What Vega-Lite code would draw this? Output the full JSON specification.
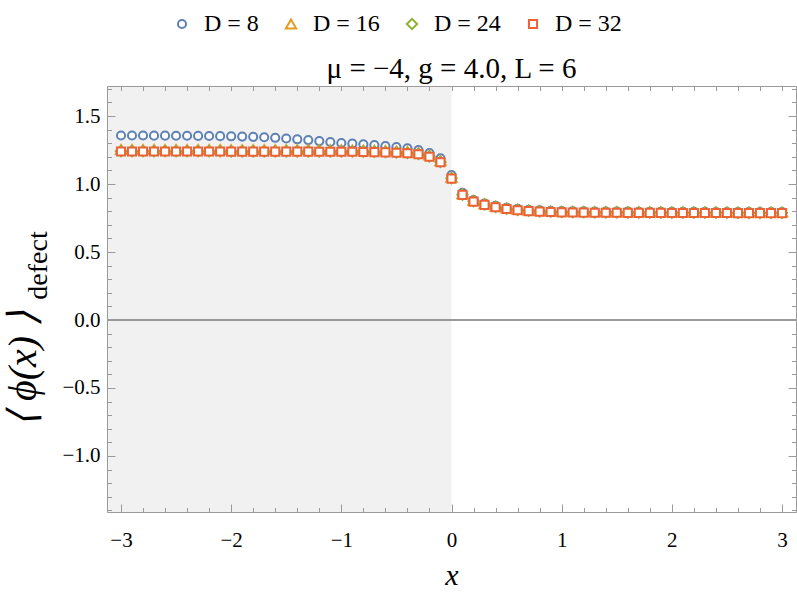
{
"$schema": "https://vega.github.io/schema/vega-lite/v6.json",
"width": 689, "height": 426,
"autosize": {"type": "none"},
"padding": {"left": 107, "top": 86, "right": 1, "bottom": 89},
"background": "white",
"title": {"text": "μ = −4, g = 4.0, L = 6", "font": "Liberation Serif, Times New Roman, serif", "fontSize": 29, "fontWeight": "normal", "anchor": "middle", "baseline": "alphabetic", "offset": 6, "dy": 101, "color": "black"},
"datasets": {
"shade": [{"x0": -3.127, "x1": 0}],
"pts": [
{"x":-3.0,"D":8,"y":1.357},{"x":-2.9,"D":8,"y":1.357},{"x":-2.8,"D":8,"y":1.357},{"x":-2.7,"D":8,"y":1.356},{"x":-2.6,"D":8,"y":1.356},{"x":-2.5,"D":8,"y":1.355},{"x":-2.4,"D":8,"y":1.355},{"x":-2.3,"D":8,"y":1.354},{"x":-2.2,"D":8,"y":1.353},{"x":-2.1,"D":8,"y":1.352},
{"x":-2.0,"D":8,"y":1.351},{"x":-1.9,"D":8,"y":1.349},{"x":-1.8,"D":8,"y":1.347},{"x":-1.7,"D":8,"y":1.344},{"x":-1.6,"D":8,"y":1.340},{"x":-1.5,"D":8,"y":1.335},{"x":-1.4,"D":8,"y":1.329},{"x":-1.3,"D":8,"y":1.323},{"x":-1.2,"D":8,"y":1.316},{"x":-1.1,"D":8,"y":1.309},
{"x":-1.0,"D":8,"y":1.302},{"x":-0.9,"D":8,"y":1.297},{"x":-0.8,"D":8,"y":1.292},{"x":-0.7,"D":8,"y":1.286},{"x":-0.6,"D":8,"y":1.279},{"x":-0.5,"D":8,"y":1.272},{"x":-0.4,"D":8,"y":1.263},{"x":-0.3,"D":8,"y":1.249},{"x":-0.2,"D":8,"y":1.228},{"x":-0.1,"D":8,"y":1.189},
{"x":0.0,"D":8,"y":1.066},{"x":0.1,"D":8,"y":0.935},{"x":0.2,"D":8,"y":0.882},{"x":0.3,"D":8,"y":0.857},{"x":0.4,"D":8,"y":0.839},{"x":0.5,"D":8,"y":0.826},{"x":0.6,"D":8,"y":0.817},{"x":0.7,"D":8,"y":0.811},{"x":0.8,"D":8,"y":0.806},{"x":0.9,"D":8,"y":0.803},
{"x":1.0,"D":8,"y":0.801},{"x":1.1,"D":8,"y":0.800},{"x":1.2,"D":8,"y":0.799},{"x":1.3,"D":8,"y":0.798},{"x":1.4,"D":8,"y":0.798},{"x":1.5,"D":8,"y":0.797},{"x":1.6,"D":8,"y":0.797},{"x":1.7,"D":8,"y":0.796},{"x":1.8,"D":8,"y":0.796},{"x":1.9,"D":8,"y":0.796},
{"x":2.0,"D":8,"y":0.795},{"x":2.1,"D":8,"y":0.795},{"x":2.2,"D":8,"y":0.795},{"x":2.3,"D":8,"y":0.795},{"x":2.4,"D":8,"y":0.794},{"x":2.5,"D":8,"y":0.794},{"x":2.6,"D":8,"y":0.794},{"x":2.7,"D":8,"y":0.794},{"x":2.8,"D":8,"y":0.794},{"x":2.9,"D":8,"y":0.794},{"x":3.0,"D":8,"y":0.794},
{"x":-3.0,"D":16,"y":1.254},{"x":-2.9,"D":16,"y":1.254},{"x":-2.8,"D":16,"y":1.254},{"x":-2.7,"D":16,"y":1.254},{"x":-2.6,"D":16,"y":1.254},{"x":-2.5,"D":16,"y":1.254},{"x":-2.4,"D":16,"y":1.254},{"x":-2.3,"D":16,"y":1.254},{"x":-2.2,"D":16,"y":1.254},{"x":-2.1,"D":16,"y":1.254},
{"x":-2.0,"D":16,"y":1.253},{"x":-1.9,"D":16,"y":1.253},{"x":-1.8,"D":16,"y":1.253},{"x":-1.7,"D":16,"y":1.253},{"x":-1.6,"D":16,"y":1.253},{"x":-1.5,"D":16,"y":1.253},{"x":-1.4,"D":16,"y":1.253},{"x":-1.3,"D":16,"y":1.253},{"x":-1.2,"D":16,"y":1.252},{"x":-1.1,"D":16,"y":1.252},
{"x":-1.0,"D":16,"y":1.252},{"x":-0.9,"D":16,"y":1.251},{"x":-0.8,"D":16,"y":1.250},{"x":-0.7,"D":16,"y":1.249},{"x":-0.6,"D":16,"y":1.247},{"x":-0.5,"D":16,"y":1.244},{"x":-0.4,"D":16,"y":1.239},{"x":-0.3,"D":16,"y":1.231},{"x":-0.2,"D":16,"y":1.213},{"x":-0.1,"D":16,"y":1.171},
{"x":0.0,"D":16,"y":1.050},{"x":0.1,"D":16,"y":0.928},{"x":0.2,"D":16,"y":0.879},{"x":0.3,"D":16,"y":0.854},{"x":0.4,"D":16,"y":0.836},{"x":0.5,"D":16,"y":0.823},{"x":0.6,"D":16,"y":0.814},{"x":0.7,"D":16,"y":0.808},{"x":0.8,"D":16,"y":0.804},{"x":0.9,"D":16,"y":0.801},
{"x":1.0,"D":16,"y":0.799},{"x":1.1,"D":16,"y":0.798},{"x":1.2,"D":16,"y":0.797},{"x":1.3,"D":16,"y":0.796},{"x":1.4,"D":16,"y":0.796},{"x":1.5,"D":16,"y":0.796},{"x":1.6,"D":16,"y":0.795},{"x":1.7,"D":16,"y":0.795},{"x":1.8,"D":16,"y":0.795},{"x":1.9,"D":16,"y":0.795},
{"x":2.0,"D":16,"y":0.794},{"x":2.1,"D":16,"y":0.794},{"x":2.2,"D":16,"y":0.794},{"x":2.3,"D":16,"y":0.794},{"x":2.4,"D":16,"y":0.794},{"x":2.5,"D":16,"y":0.794},{"x":2.6,"D":16,"y":0.793},{"x":2.7,"D":16,"y":0.793},{"x":2.8,"D":16,"y":0.793},{"x":2.9,"D":16,"y":0.793},{"x":3.0,"D":16,"y":0.793},
{"x":-3.0,"D":24,"y":1.241},{"x":-2.9,"D":24,"y":1.241},{"x":-2.8,"D":24,"y":1.241},{"x":-2.7,"D":24,"y":1.241},{"x":-2.6,"D":24,"y":1.241},{"x":-2.5,"D":24,"y":1.241},{"x":-2.4,"D":24,"y":1.241},{"x":-2.3,"D":24,"y":1.241},{"x":-2.2,"D":24,"y":1.241},{"x":-2.1,"D":24,"y":1.241},
{"x":-2.0,"D":24,"y":1.240},{"x":-1.9,"D":24,"y":1.240},{"x":-1.8,"D":24,"y":1.240},{"x":-1.7,"D":24,"y":1.240},{"x":-1.6,"D":24,"y":1.240},{"x":-1.5,"D":24,"y":1.240},{"x":-1.4,"D":24,"y":1.240},{"x":-1.3,"D":24,"y":1.240},{"x":-1.2,"D":24,"y":1.239},{"x":-1.1,"D":24,"y":1.239},
{"x":-1.0,"D":24,"y":1.239},{"x":-0.9,"D":24,"y":1.239},{"x":-0.8,"D":24,"y":1.238},{"x":-0.7,"D":24,"y":1.237},{"x":-0.6,"D":24,"y":1.235},{"x":-0.5,"D":24,"y":1.232},{"x":-0.4,"D":24,"y":1.228},{"x":-0.3,"D":24,"y":1.221},{"x":-0.2,"D":24,"y":1.203},{"x":-0.1,"D":24,"y":1.162},
{"x":0.0,"D":24,"y":1.042},{"x":0.1,"D":24,"y":0.922},{"x":0.2,"D":24,"y":0.873},{"x":0.3,"D":24,"y":0.849},{"x":0.4,"D":24,"y":0.831},{"x":0.5,"D":24,"y":0.818},{"x":0.6,"D":24,"y":0.809},{"x":0.7,"D":24,"y":0.803},{"x":0.8,"D":24,"y":0.799},{"x":0.9,"D":24,"y":0.796},
{"x":1.0,"D":24,"y":0.794},{"x":1.1,"D":24,"y":0.793},{"x":1.2,"D":24,"y":0.792},{"x":1.3,"D":24,"y":0.791},{"x":1.4,"D":24,"y":0.791},{"x":1.5,"D":24,"y":0.791},{"x":1.6,"D":24,"y":0.790},{"x":1.7,"D":24,"y":0.790},{"x":1.8,"D":24,"y":0.790},{"x":1.9,"D":24,"y":0.790},
{"x":2.0,"D":24,"y":0.789},{"x":2.1,"D":24,"y":0.789},{"x":2.2,"D":24,"y":0.789},{"x":2.3,"D":24,"y":0.789},{"x":2.4,"D":24,"y":0.789},{"x":2.5,"D":24,"y":0.789},{"x":2.6,"D":24,"y":0.788},{"x":2.7,"D":24,"y":0.788},{"x":2.8,"D":24,"y":0.788},{"x":2.9,"D":24,"y":0.788},{"x":3.0,"D":24,"y":0.788},
{"x":-3.0,"D":32,"y":1.239},{"x":-2.9,"D":32,"y":1.239},{"x":-2.8,"D":32,"y":1.239},{"x":-2.7,"D":32,"y":1.239},{"x":-2.6,"D":32,"y":1.239},{"x":-2.5,"D":32,"y":1.239},{"x":-2.4,"D":32,"y":1.239},{"x":-2.3,"D":32,"y":1.239},{"x":-2.2,"D":32,"y":1.239},{"x":-2.1,"D":32,"y":1.239},
{"x":-2.0,"D":32,"y":1.238},{"x":-1.9,"D":32,"y":1.238},{"x":-1.8,"D":32,"y":1.238},{"x":-1.7,"D":32,"y":1.238},{"x":-1.6,"D":32,"y":1.238},{"x":-1.5,"D":32,"y":1.238},{"x":-1.4,"D":32,"y":1.238},{"x":-1.3,"D":32,"y":1.238},{"x":-1.2,"D":32,"y":1.237},{"x":-1.1,"D":32,"y":1.237},
{"x":-1.0,"D":32,"y":1.237},{"x":-0.9,"D":32,"y":1.237},{"x":-0.8,"D":32,"y":1.236},{"x":-0.7,"D":32,"y":1.235},{"x":-0.6,"D":32,"y":1.233},{"x":-0.5,"D":32,"y":1.230},{"x":-0.4,"D":32,"y":1.226},{"x":-0.3,"D":32,"y":1.219},{"x":-0.2,"D":32,"y":1.201},{"x":-0.1,"D":32,"y":1.160},
{"x":0.0,"D":32,"y":1.040},{"x":0.1,"D":32,"y":0.920},{"x":0.2,"D":32,"y":0.871},{"x":0.3,"D":32,"y":0.847},{"x":0.4,"D":32,"y":0.829},{"x":0.5,"D":32,"y":0.816},{"x":0.6,"D":32,"y":0.807},{"x":0.7,"D":32,"y":0.801},{"x":0.8,"D":32,"y":0.797},{"x":0.9,"D":32,"y":0.794},
{"x":1.0,"D":32,"y":0.792},{"x":1.1,"D":32,"y":0.791},{"x":1.2,"D":32,"y":0.790},{"x":1.3,"D":32,"y":0.789},{"x":1.4,"D":32,"y":0.789},{"x":1.5,"D":32,"y":0.789},{"x":1.6,"D":32,"y":0.788},{"x":1.7,"D":32,"y":0.788},{"x":1.8,"D":32,"y":0.788},{"x":1.9,"D":32,"y":0.788},
{"x":2.0,"D":32,"y":0.787},{"x":2.1,"D":32,"y":0.787},{"x":2.2,"D":32,"y":0.787},{"x":2.3,"D":32,"y":0.787},{"x":2.4,"D":32,"y":0.787},{"x":2.5,"D":32,"y":0.787},{"x":2.6,"D":32,"y":0.786},{"x":2.7,"D":32,"y":0.786},{"x":2.8,"D":32,"y":0.786},{"x":2.9,"D":32,"y":0.786},{"x":3.0,"D":32,"y":0.786}
]},
"layer": [
{"data": {"name": "shade"},
 "mark": {"type": "rect", "color": "#f1f1f1"},
 "encoding": {
  "x": {"field": "x0", "type": "quantitative", "scale": {"domain": [-3.127, 3.127], "nice": false, "zero": false},
   "axis": {"orient": "bottom", "values": [-3,-2,-1,0,1,2,3], "format": "d", "tickSize": -8, "labelPadding": 25, "zindex": 1,
    "title": "x", "titleFontStyle": "italic", "titleFontSize": 30, "titleY": 72, "titleBaseline": "alphabetic"}},
  "x2": {"field": "x1"}}},
{"data": {"values": [{}]},
 "mark": {"type": "rule", "color": "#7a7a7a", "strokeWidth": 1.3},
 "encoding": {
  "y": {"datum": 0, "type": "quantitative", "scale": {"domain": [-1.412, 1.721], "nice": false, "zero": false},
   "axis": {"orient": "left", "values": [-1,-0.5,0,0.5,1,1.5], "format": ".1f", "tickSize": -8, "labelPadding": 15, "zindex": 1,
    "title": "⟨ ϕ(x) ⟩", "titleFontStyle": "italic", "titleFontSize": 40, "titleAngle": 270, "titleX": -72, "titleY": 282, "titleAlign": "center", "titleBaseline": "alphabetic"}}}},
{"data": {"name": "pts"},
 "mark": {"type": "point", "filled": false, "fill": "white", "strokeWidth": 2, "opacity": 1},
 "encoding": {
  "x": {"field": "x", "type": "quantitative", "scale": {"domain": [-3.127, 3.127], "nice": false, "zero": false},
   "axis": {"orient": "bottom", "values": [-3,-2.8,-2.6,-2.4,-2.2,-2,-1.8,-1.6,-1.4,-1.2,-1,-0.8,-0.6,-0.4,-0.2,0,0.2,0.4,0.6,0.8,1,1.2,1.4,1.6,1.8,2,2.2,2.4,2.6,2.8,3], "labels": false, "tickSize": -4.5, "domain": false, "title": null, "zindex": 1}},
  "y": {"field": "y", "type": "quantitative", "scale": {"domain": [-1.412, 1.721], "nice": false, "zero": false},
   "axis": {"orient": "left", "values": [-1.4,-1.3,-1.2,-1.1,-1,-0.9,-0.8,-0.7,-0.6,-0.5,-0.4,-0.3,-0.2,-0.1,0,0.1,0.2,0.3,0.4,0.5,0.6,0.7,0.8,0.9,1,1.1,1.2,1.3,1.4,1.5,1.6,1.7], "labels": false, "tickSize": -4.5, "domain": false, "zindex": 1,
    "title": "defect", "titleFontSize": 28, "titleAngle": 270, "titleX": -61, "titleY": 179, "titleAlign": "center", "titleBaseline": "alphabetic"}},
  "color": {"field": "D", "type": "nominal", "scale": {"domain": [8,16,24,32], "range": ["#5E81B5","#E19C24","#8FB032","#EB6235"]},
   "legend": {"orient": "none", "legendX": 63, "legendY": -74, "direction": "horizontal", "title": null, "labelExpr": "'D = ' + datum.label",
    "labelFont": "Liberation Serif, Times New Roman, serif", "labelFontSize": 24, "labelColor": "black", "symbolSize": 36, "symbolStrokeWidth": 2, "symbolFillColor": "white", "labelOffset": 10, "columnPadding": 20,
    "encode": {"symbols": {"update": {"size": {"value": 36}}}}}},
  "shape": {"field": "D", "type": "nominal", "scale": {"domain": [8,16,24,32], "range": ["circle","triangle-up","diamond","square"]}},
  "size": {"field": "D", "type": "nominal", "scale": {"type": "ordinal", "domain": [8,16,24,32], "range": [66,105,105,66]}, "legend": null}}},
{"data": {"values": [{}]},
 "mark": {"type": "point", "opacity": 0},
 "encoding": {
  "x": {"datum": 0, "type": "quantitative", "scale": {"domain": [-3.127, 3.127], "nice": false, "zero": false},
   "axis": {"orient": "top", "values": [-3,-2.8,-2.6,-2.4,-2.2,-2,-1.8,-1.6,-1.4,-1.2,-1,-0.8,-0.6,-0.4,-0.2,0,0.2,0.4,0.6,0.8,1,1.2,1.4,1.6,1.8,2,2.2,2.4,2.6,2.8,3], "labels": false, "tickSize": -4.5, "title": null, "zindex": 1}},
  "y": {"datum": 0, "type": "quantitative", "scale": {"domain": [-1.412, 1.721], "nice": false, "zero": false},
   "axis": {"orient": "right", "values": [-1,-0.5,0,0.5,1,1.5], "labels": false, "tickSize": -8, "title": null, "zindex": 1}}}},
{"data": {"values": [{}]},
 "mark": {"type": "point", "opacity": 0},
 "encoding": {
  "y": {"datum": 0, "type": "quantitative", "scale": {"domain": [-1.412, 1.721], "nice": false, "zero": false},
   "axis": {"orient": "right", "values": [-1.4,-1.3,-1.2,-1.1,-1,-0.9,-0.8,-0.7,-0.6,-0.5,-0.4,-0.3,-0.2,-0.1,0,0.1,0.2,0.3,0.4,0.5,0.6,0.7,0.8,0.9,1,1.1,1.2,1.3,1.4,1.5,1.6,1.7], "labels": false, "tickSize": -4.5, "domain": false, "title": null, "zindex": 1}}}}
],
"resolve": {"axis": {"x": "independent", "y": "independent"}},
"config": {
 "view": {"stroke": null},
 "axis": {"grid": false, "domainColor": "#9a9a9a", "tickColor": "#9a9a9a", "domainWidth": 1, "tickWidth": 1,
  "labelFont": "Liberation Serif, Times New Roman, serif", "labelFontSize": 21, "labelColor": "black",
  "titleFont": "Liberation Serif, Times New Roman, serif", "titleColor": "black", "titleFontWeight": "normal"}
}
}
